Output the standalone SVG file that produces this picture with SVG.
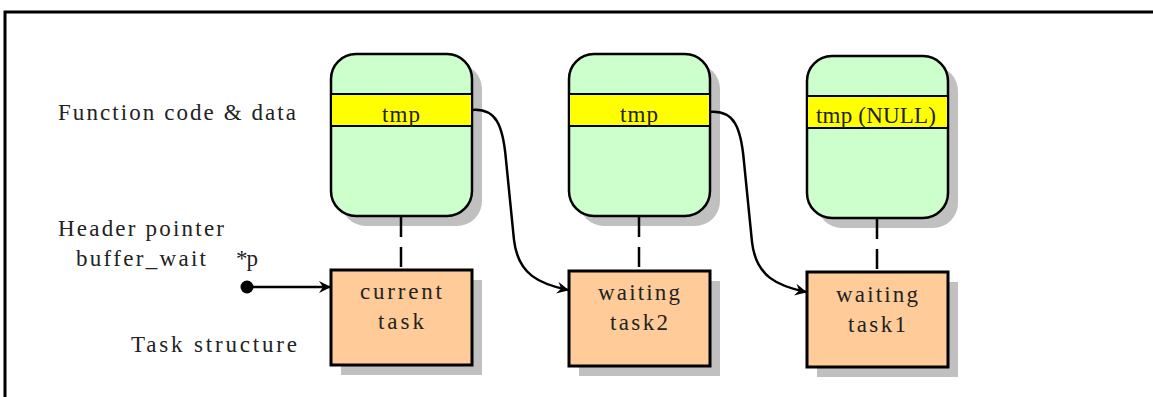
<svg xmlns="http://www.w3.org/2000/svg" width="1153" height="397" viewBox="0 0 1153 397">
<style>
.t{font-family:"Liberation Serif","DejaVu Serif",serif;font-size:23px;fill:#222}
.c{text-anchor:middle}
.sh{fill:#c0c0c0}
.code{fill:#ccffcc;stroke:#000;stroke-width:2.5}
.band{fill:#ffff00;stroke:#000;stroke-width:2}
.task{fill:#ffcc99;stroke:#000;stroke-width:3}
.dash{stroke:#000;stroke-width:2.5;stroke-dasharray:20,10;fill:none}
.link{stroke:#000;stroke-width:2.5;fill:none}
</style>
<defs>
<marker id="ah" viewBox="0 0 12 12" refX="11" refY="6" markerWidth="12" markerHeight="12" markerUnits="userSpaceOnUse" orient="auto">
<path d="M0,0 L12,6 L0,12 L4,6 Z" fill="#000"/>
</marker>
</defs>
<rect x="0" y="0" width="1153" height="397" fill="#fff"/>
<path d="M5,397 V12 H1153" fill="none" stroke="#000" stroke-width="3"/>
<text class="t" x="58" y="120" textLength="238" lengthAdjust="spacing">Function code &amp; data</text>
<text class="t" x="58" y="236" textLength="166" lengthAdjust="spacing">Header pointer</text>
<text class="t" x="76" y="266" textLength="130" lengthAdjust="spacing">buffer_wait</text>
<text class="t" x="236" y="266" textLength="22" lengthAdjust="spacing">*p</text>
<text class="t" x="131" y="352" textLength="166" lengthAdjust="spacing">Task structure</text>
<g id="code1">
<rect class="sh" x="341" y="64" width="141" height="162" rx="25"/>
<rect class="code" x="331" y="54" width="141" height="162" rx="25"/>
<rect class="band" x="331" y="94" width="141" height="32"/>
<text class="t c" x="401" y="122" textLength="38" lengthAdjust="spacing">tmp</text>
</g>
<g id="code2">
<rect class="sh" x="579" y="64" width="141" height="162" rx="25"/>
<rect class="code" x="569" y="54" width="141" height="162" rx="25"/>
<rect class="band" x="569" y="94" width="141" height="32"/>
<text class="t c" x="639" y="122" textLength="38" lengthAdjust="spacing">tmp</text>
</g>
<g id="code3">
<rect class="sh" x="817" y="66" width="141" height="162" rx="25"/>
<rect class="code" x="807" y="56" width="141" height="162" rx="25"/>
<rect class="band" x="807" y="96" width="141" height="32"/>
<text class="t c" x="876" y="123" textLength="120" lengthAdjust="spacing">tmp (NULL)</text>
</g>
<g id="task1">
<rect class="sh" x="341" y="280" width="141" height="95"/>
<rect class="task" x="331" y="270" width="141" height="95"/>
<text class="t c" x="401" y="299" textLength="82" lengthAdjust="spacing">current</text>
<text class="t c" x="401" y="329" textLength="46" lengthAdjust="spacing">task</text>
</g>
<g id="task2">
<rect class="sh" x="579" y="281" width="141" height="95"/>
<rect class="task" x="569" y="271" width="141" height="95"/>
<text class="t c" x="639" y="300" textLength="82" lengthAdjust="spacing">waiting</text>
<text class="t c" x="639" y="330" textLength="58" lengthAdjust="spacing">task2</text>
</g>
<g id="task3">
<rect class="sh" x="817" y="282" width="141" height="95"/>
<rect class="task" x="807" y="272" width="141" height="95"/>
<text class="t c" x="877" y="302" textLength="82" lengthAdjust="spacing">waiting</text>
<text class="t c" x="877" y="332" textLength="58" lengthAdjust="spacing">task1</text>
</g>
<g id="connectors">
<line class="dash" x1="401" y1="217" x2="401" y2="270"/>
<line class="dash" x1="639" y1="217" x2="639" y2="271"/>
<line class="dash" x1="877" y1="219" x2="877" y2="272"/>
<circle cx="247" cy="287" r="6.5" fill="#000"/>
<line class="link" x1="247" y1="287" x2="330" y2="287" marker-end="url(#ah)"/>
<path class="link" d="M472,110 C496,108 503,125 506,160 L514,240 C518,275 540,284 568,290" marker-end="url(#ah)"/>
<path class="link" d="M710,112 C734,110 741,127 744,162 L752,242 C756,277 778,286 806,292" marker-end="url(#ah)"/>
</g>
</svg>
